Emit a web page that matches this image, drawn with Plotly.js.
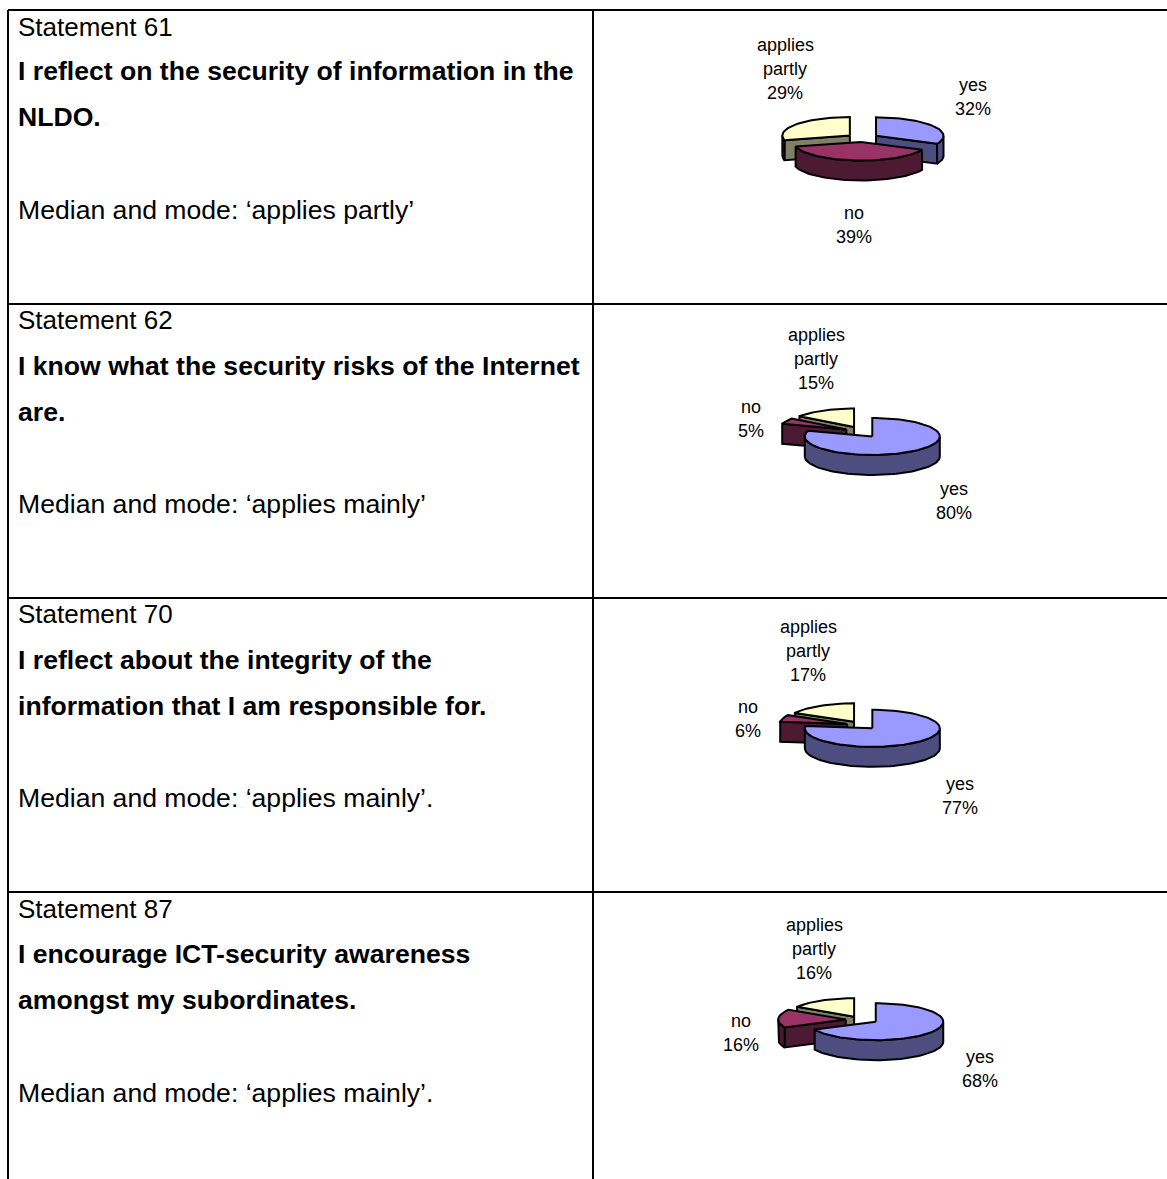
<!DOCTYPE html>
<html>
<head>
<meta charset="utf-8">
<script src="https://cdn.plot.ly/plotly-3.0.1.min.js"></script>
<style>html,body{margin:0;padding:0;background:#fff;overflow:hidden}#chart{width:1167px;height:1179px}</style>
</head>
<body>
<div id="chart"></div>
<script>
// ---- data ----
const categories = ['yes', 'no', 'applies partly'];
const yesValues = [32, 80, 77, 68];
const noValues = [39, 5, 6, 16];
const partlyValues = [29, 15, 17, 16];
const statementLabels = ['Statement 61', 'Statement 62', 'Statement 70', 'Statement 87'];
const statementLines = [
  ['I reflect on the security of information in the', 'NLDO.'],
  ['I know what the security risks of the Internet', 'are.'],
  ['I reflect about the integrity of the', 'information that I am responsible for.'],
  ['I encourage ICT-security awareness', 'amongst my subordinates.']
];
const medianLabels = [
  'Median and mode: \u2018applies partly\u2019',
  'Median and mode: \u2018applies mainly\u2019',
  'Median and mode: \u2018applies mainly\u2019.',
  'Median and mode: \u2018applies mainly\u2019.'
];

// ---- styling and layout ----
const topColors = ['#9999FF', '#993366', '#FFFFCC'];
const sideColors = ['#4D4D80', '#4D1A33', '#808066'];
const FONT = '"Liberation Sans", Arial, sans-serif';
const TEXT_X = 18, HEAD_SIZE = 26, TEXT_SIZE = 26.6, LABEL_SIZE = 18;
const rowTextY = [[27, 71, 117, 210], [320, 366, 412, 504], [614, 660, 706, 798], [909, 954, 1000, 1093]];
const pieCenterX = [862.5, 862, 862, 862];
const pieCenterY = [138, 432, 725.3, 1019.8];
const radiusX = 67.5, radiusY = 18.5, depth = 20, lineW = 2;
const explodeX = [16, 17.5, 15.6, 16.3];
const explodeY = [4, 5.5, 4, 3.5];
// label anchor per pie and category: centre x, first line y
const labelX = [[973, 854, 785], [954, 751, 816], [960, 748, 808], [980, 741, 814]];
const labelY = [[85, 213, 45], [489, 407, 335], [784, 707, 627], [1057, 1021, 925]];
const LABEL_PITCH = 24;
const tableLeft = 8, tableTop = 10, tableMid = 593, tableRight = 1167, tableBottom = 1179;
const rowLines = [304, 598, 892];

const rad = d => d * Math.PI / 180;
const traces = [];
const annotations = [];

function arcPoints(cx, cy, a0, a1, dy) {
  const n = Math.max(2, Math.ceil(Math.abs(a1 - a0) / 3));
  const xs = [], ys = [];
  for (let i = 0; i <= n; i++) {
    const a = rad(a0 + (a1 - a0) * i / n);
    xs.push(cx + radiusX * Math.sin(a));
    ys.push(cy - radiusY * Math.cos(a) + dy);
  }
  return [xs, ys];
}
function poly(name, xs, ys, color) {
  traces.push({
    type: 'scatter', mode: 'lines', name: name, x: xs.concat(xs[0]), y: ys.concat(ys[0]),
    fill: 'toself', fillcolor: color, line: {color: '#000', width: lineW, shape: 'linear'},
    hoverinfo: 'skip', showlegend: false, cliponaxis: false
  });
}
function wall(name, cx, cy, a, color) {
  const ex = cx + radiusX * Math.sin(rad(a)), ey = cy - radiusY * Math.cos(rad(a));
  poly(name, [cx, ex, ex, cx], [cy, ey, ey + depth, cy + depth], color);
}

yesValues.forEach((yes, p) => {
  const vals = [yes, noValues[p], partlyValues[p]];
  const total = vals.reduce((s, v) => s + v, 0);
  let start = 0;
  const slices = vals.map((v, c) => {
    const a0 = start, a1 = start + v / total * 360;
    start = a1;
    const mid = (a0 + a1) / 2;
    return {c, a0, a1, mid,
      cx: pieCenterX[p] + explodeX[p] * Math.sin(rad(mid)),
      cy: pieCenterY[p] - explodeY[p] * Math.cos(rad(mid))};
  });
  slices.slice().sort((s, t) => Math.cos(rad(t.mid)) - Math.cos(rad(s.mid))).forEach(s => {
    const name = categories[s.c];
    if (Math.sin(rad(s.a0)) < -1e-6) wall(name, s.cx, s.cy, s.a0, sideColors[s.c]);
    if (Math.sin(rad(s.a1)) > 1e-6) wall(name, s.cx, s.cy, s.a1, sideColors[s.c]);
    const lo = Math.max(s.a0, 90), hi = Math.min(s.a1, 270);
    if (hi > lo) {
      const [tx, ty] = arcPoints(s.cx, s.cy, lo, hi, 0);
      const [bx, by] = arcPoints(s.cx, s.cy, hi, lo, depth);
      poly(name, tx.concat(bx), ty.concat(by), sideColors[s.c]);
    }
    const [ax, ay] = arcPoints(s.cx, s.cy, s.a0, s.a1, 0);
    poly(name, [s.cx].concat(ax), [s.cy].concat(ay), topColors[s.c]);
  });
  // labels
  vals.forEach((v, c) => {
    const lines = categories[c].split(' ').concat(v + '%');
    lines.forEach((t, i) => annotations.push({
      x: labelX[p][c], y: labelY[p][c] + i * LABEL_PITCH, xref: 'x', yref: 'y', text: t,
      showarrow: false, xanchor: 'center', yanchor: 'middle',
      font: {family: FONT, size: LABEL_SIZE, color: '#000'}
    }));
  });
});

function leftText(t, y, bold, size) {
  annotations.push({
    x: TEXT_X, y: y, xref: 'x', yref: 'y', text: bold ? '<b>' + t + '</b>' : t,
    showarrow: false, xanchor: 'left', yanchor: 'middle', xshift: -2,
    font: {family: FONT, size: size, color: '#000'}
  });
}
statementLabels.forEach((s, r) => {
  leftText(s, rowTextY[r][0], false, HEAD_SIZE);
  leftText(statementLines[r][0], rowTextY[r][1], true, TEXT_SIZE);
  leftText(statementLines[r][1], rowTextY[r][2], true, TEXT_SIZE);
  leftText(medianLabels[r], rowTextY[r][3], false, TEXT_SIZE);
});

const tl = {type: 'line', xref: 'x', yref: 'y', line: {color: '#000', width: 2}};
const shapes = [
  Object.assign({}, tl, {x0: tableLeft, x1: tableLeft, y0: tableTop, y1: tableBottom}),
  Object.assign({}, tl, {x0: tableMid, x1: tableMid, y0: tableTop, y1: tableBottom}),
  Object.assign({}, tl, {x0: tableLeft, x1: tableRight, y0: tableTop, y1: tableTop})
].concat(rowLines.map(y => Object.assign({}, tl, {x0: tableLeft, x1: tableRight, y0: y, y1: y})));

const axis = {visible: false, fixedrange: true, showgrid: false, zeroline: false};
Plotly.newPlot('chart', traces, {
  width: 1167, height: 1179, margin: {l: 0, r: 0, t: 0, b: 0, pad: 0},
  paper_bgcolor: '#fff', plot_bgcolor: '#fff', showlegend: false,
  xaxis: Object.assign({range: [0, 1167]}, axis),
  yaxis: Object.assign({range: [1179, 0]}, axis),
  shapes: shapes, annotations: annotations
}, {displayModeBar: false, staticPlot: true});
</script>
</body>
</html>
